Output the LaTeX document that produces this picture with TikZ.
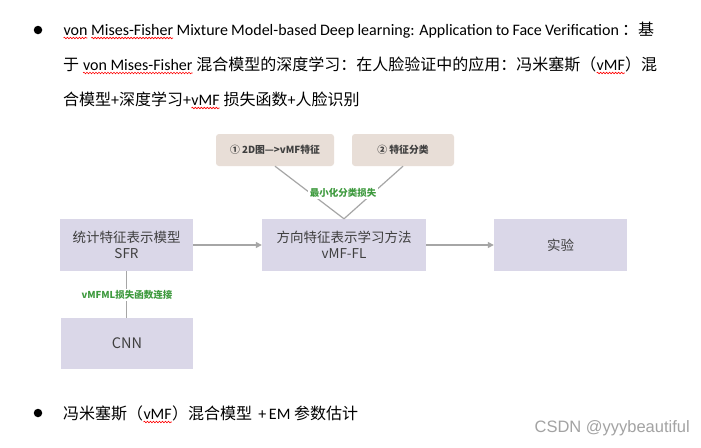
\documentclass[tikz,border=0pt]{standalone}
\usepackage{fontspec}
\setmainfont{Carlito}
\newfontfamily\cjk{Noto Sans CJK SC}
\newfontfamily\bcjk{Noto Sans CJK SC}
\newfontfamily\wmfont{Liberation Sans}
\usetikzlibrary{arrows.meta,decorations.pathmorphing}
\newcommand\uwred[1]{\tikz[baseline=(w.base)]{\node[inner sep=0pt, outer sep=0pt, anchor=base] (w) {#1};
  \draw[red, line width=0.6pt, decorate, decoration={snake, segment length=3pt, amplitude=0.8pt}]
    ([yshift=-3pt]w.base west) -- ([yshift=-3pt]w.base east);}}
\definecolor{boxc}{HTML}{DAD7E8}
\definecolor{topc}{HTML}{E8DED7}
\definecolor{txtc}{HTML}{3F3F3F}
\definecolor{linec}{HTML}{A6A6A6}
\definecolor{greenc}{HTML}{3E9A3E}
\definecolor{wmc}{HTML}{A3A3A3}
\tikzset{
  body/.style={anchor=base west, inner sep=0pt, font=\fontsize{16}{19}\selectfont},
  bullet/.style={circle, fill=black, inner sep=0pt, minimum size=8.5pt},
  midbox/.style={rectangle, fill=boxc, text=txtc, inner sep=0pt, align=center,
    font=\cjk\fontsize{13.5}{16.5}\selectfont},
  topbox/.style={rectangle, rounded corners=3pt, fill=topc, text=txtc, inner sep=0pt,
    minimum height=32pt, font=\cjk\bfseries\fontsize{9.8}{11}\selectfont},
  conn/.style={draw=linec, line width=1.2pt},
  arr/.style={conn, -{Triangle[length=6pt, width=6pt]}},
  glabel/.style={fill=white, text=greenc, inner sep=1.5pt, font=\cjk\bfseries\fontsize{9.5}{11}\selectfont}
}
\begin{document}
\begin{tikzpicture}[x=1pt, y=-1pt]
\useasboundingbox (0,0) rectangle (701,447);
\fill[white] (0,0) rectangle (701,447);
% body text
\node[bullet] (b1) at (38,30) {};
\node[body] (l1) at (63,35) {\makebox[591pt][s]{\uwred{von} \uwred{Mises-Fisher} Mixture Model-based Deep learning: Application to Face Verification {\bcjk ：基}}};
\node[body] (l2) at (63,70) {\makebox[594pt][s]{{\bcjk 于} \uwred{von Mises-Fisher} {\bcjk 混合模型的深度学习：在人脸验证中的应用：冯米塞斯（}\uwred{vMF}{\bcjk ）混}}};
\node[body] (l3) at (63,105) {{\bcjk 合模型}+{\bcjk 深度学习}+\uwred{vMF} {\bcjk 损失函数}+{\bcjk 人脸识别}};
\node[bullet] (b2) at (38,413) {};
\node[body] (l4) at (63,419) {{\bcjk 冯米塞斯（}\uwred{vMF}{\bcjk ）混合模型} \,+\,EM {\bcjk 参数估计}};
\node[anchor=east, inner sep=0pt, text=wmc, font=\wmfont\fontsize{16.5}{19}\selectfont] (wm) at (690,428) {CSDN @yyybeautiful};
% diagram
\node[topbox, minimum width=118pt] (t1) at (275,150) {① 2D图—>vMF特征};
\node[topbox, minimum width=102pt] (t2) at (403,150) {② 特征分类};
\node[midbox, minimum width=133pt, minimum height=52pt] (sfr) at (126.5,245) {统计特征表示模型\\SFR};
\node[midbox, minimum width=164pt, minimum height=52pt] (fl) at (344,245) {方向特征表示学习方法\\vMF-FL};
\node[midbox, minimum width=133pt, minimum height=52pt] (exp) at (560.5,245) {实验};
\node[midbox, minimum width=132pt, minimum height=51pt, font=\cjk\fontsize{14.5}{17}\selectfont] (cnn) at (127,343.5) {CNN};
\draw[conn] (t1.south) -- (fl.north);
\draw[conn] (t2.south) -- (fl.north);
\draw[arr] (sfr.east) -- (fl.west);
\draw[arr] (fl.east) -- (exp.west);
\draw[conn] (sfr.south) -- (sfr.south |- cnn.north);
\node[glabel] (g1) at (343,193) {最小化分类损失};
\node[glabel] (g2) at (127,295) {vMFML损失函数连接};
\end{tikzpicture}
\end{document}
